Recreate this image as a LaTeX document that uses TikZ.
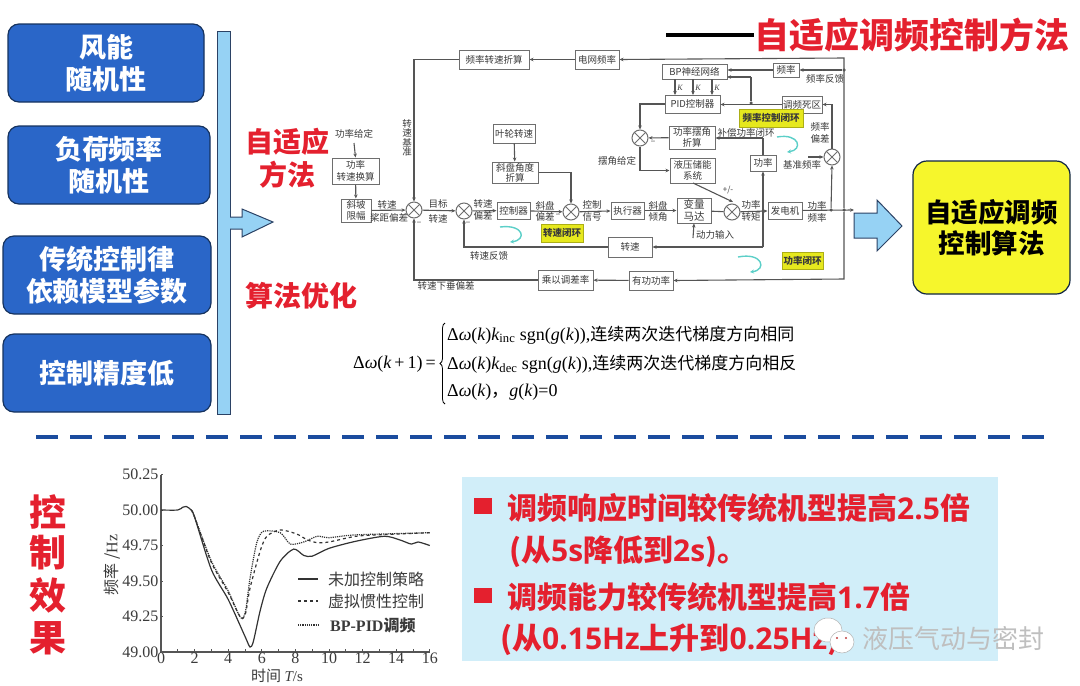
\documentclass[tikz,border=0pt]{standalone}
\usepackage{fontspec}
\setmainfont{Noto Sans CJK SC}
\newfontfamily\timesfont{Liberation Serif}
\newfontfamily\latinfont{Open Sans}
\usetikzlibrary{arrows.meta,decorations.pathreplacing}
\definecolor{boxline}{HTML}{6E6E6E}
\definecolor{wirecol}{HTML}{555555}
\definecolor{labeltext}{HTML}{3A3A3A}
\definecolor{deepblue}{HTML}{16335F}
\definecolor{dashblue}{HTML}{1B4C9E}
\definecolor{midblue}{HTML}{2A66C8}
\definecolor{lightblue}{HTML}{96D2F4}
\definecolor{panelblue}{HTML}{D1EEF9}
\definecolor{titlered}{HTML}{E4202E}
\definecolor{loopyellow}{HTML}{E6E81E}
\definecolor{resultyellow}{HTML}{F6F62C}
\definecolor{loopcyan}{HTML}{5CCFC8}
\newcommand{\fs}[1]{\fontsize{#1pt}{#1pt}\selectfont}
\newcommand{\fsl}[2]{\fontsize{#1pt}{#2pt}\selectfont}
\newcommand{\dwk}{Δ{\itshape ω}({\itshape k})}
\newcommand{\lt}[1]{{\latinfont #1}}
\tikzset{
  bluebox/.style={draw=deepblue,line width=1.2pt,rounded corners=11pt,fill=midblue,text=white,align=center,font=\fs{27}\bfseries},
  redtext/.style={text=titlered,align=center,font=\fs{28}\bfseries},
  boxnode/.style={draw=boxline,line width=1pt,fill=white,inner sep=0pt,align=center,text=labeltext,font=\fs{9.5}},
  loopnode/.style={draw=loopyellow!75!black,line width=.7pt,fill=loopyellow,inner sep=0pt,text=labeltext,font=\fs{9.5}\bfseries},
  lbl/.style={inner sep=0pt,text=labeltext,align=center,font=\fs{9.5}},
  sumnode/.style={circle,draw=boxline,line width=1pt,fill=white,minimum size=16pt,inner sep=0pt,
    path picture={\draw[boxline,line width=.8pt] (path picture bounding box.north west) -- (path picture bounding box.south east)
      (path picture bounding box.north east) -- (path picture bounding box.south west);}},
  wire/.style={draw=wirecol,line width=1.1pt},
  arrowed/.style={wire,-{Stealth[length=4pt,width=3.5pt]}},
  dot/.style={circle,fill=wirecol,inner sep=0pt,minimum size=3.5pt},
  loopcurve/.style={draw=loopcyan,line width=1.4pt,-{Stealth[length=4pt,width=4pt]}},
  blockarrow/.style={draw=deepblue!80!gray,line width=1pt,fill=lightblue},
  ticklabel/.style={inner sep=0pt,text=labeltext,font=\timesfont\fs{16}},
  legendtext/.style={anchor=west,inner sep=0pt,text=labeltext,font=\fs{16}},
  eqline/.style={anchor=west,inner sep=0pt,text=black,font=\timesfont\fs{18}},
  pointtext/.style={anchor=west,inner sep=0pt,text=titlered,font=\fs{30}\bfseries},
}
\begin{document}
\begin{tikzpicture}[x=1pt,y=-1pt]
  \useasboundingbox (0,0) rectangle (1080,686);

  % Left column of causes
  \node[bluebox,minimum width=196pt,minimum height=78pt] (wind) at (106,63) {风能\\[5pt]随机性};
  \node[bluebox,minimum width=202pt,minimum height=78pt] (load) at (109,165) {负荷频率\\[5pt]随机性};
  \node[bluebox,minimum width=208pt,minimum height=78pt] (model) at (107,275) {传统控制律\\[5pt]依赖模型参数};
  \node[bluebox,minimum width=208pt,minimum height=78pt] (acc) at (107,373) {控制精度低};

  % Bar and block arrows
  \draw[blockarrow] (217,31) rectangle (230,414);
  \draw[blockarrow] (230,217) -- (242,217) -- (242,209) -- (273,222) -- (242,237) -- (242,229) -- (230,229);
  \draw[blockarrow] (854,213) -- (877,213) -- (877,200) -- (902,226) -- (877,251) -- (877,238) -- (854,238) -- cycle;

  \node[redtext] (adapt) at (287,158) {自适应\\[5pt]方法};
  \node[redtext] (optim) at (301,296) {算法优化};

  % Title
  \node[redtext,font=\fs{35}\bfseries,anchor=west,inner sep=0pt] (title) at (754,35) {自适应调频控制方法};
  \coordinate (titlestart) at (666,35);
  \draw[line width=4pt] (titlestart) -- (title.west);

  % Result box
  \node[draw=deepblue!70!black,line width=1.2pt,fill=resultyellow,rounded corners=14pt,minimum width=157pt,minimum height=133pt,align=center,font=\fs{26.5}\bfseries] (algo) at (991.5,227.5) {自适应调频\\[5pt]控制算法};

  % Blocks of the control scheme
  \node[boxnode,minimum width=70pt,minimum height=19pt] (fdspeed) at (494,59.5) {频率转速折算};
  \node[boxnode,minimum width=44pt,minimum height=19pt] (gridf) at (597,59.5) {电网频率};
  \node[boxnode,minimum width=65pt,minimum height=15pt] (bpnet) at (694.5,71.5) {BP神经网络};
  \node[boxnode,minimum width=26pt,minimum height=14pt] (freqb) at (786,70) {频率};
  \node[boxnode,minimum width=55pt,minimum height=18pt] (pid) at (692.5,104) {PID控制器};
  \node[boxnode,minimum width=40pt,minimum height=17pt] (dead) at (802,104.5) {调频死区};
  \node[boxnode,minimum width=46pt,minimum height=23pt,font=\fsl{9.5}{10.5}] (powang) at (692,137.5) {功率摆角\\折算};
  \node[boxnode,minimum width=45pt,minimum height=25pt,font=\fsl{9.5}{11}] (hydro) at (692.5,170.5) {液压储能\\系统};
  \node[boxnode,minimum width=26pt,minimum height=16pt] (powb) at (763,163) {功率};
  \node[boxnode,minimum width=34pt,minimum height=17pt] (gen) at (785,210.5) {发电机};
  \node[boxnode,minimum width=34pt,minimum height=25pt,font=\fsl{10.5}{11.5}] (motor) at (694,210.5) {变量\\马达};
  \node[boxnode,minimum width=33pt,minimum height=17pt] (actu) at (627.5,210.5) {执行器};
  \node[boxnode,minimum width=44pt,minimum height=20pt] (speedb) at (630,247) {转速};
  \node[boxnode,minimum width=44pt,minimum height=19pt] (actp) at (651,280.5) {有功功率};
  \node[boxnode,minimum width=55pt,minimum height=20pt] (droop) at (565.5,280) {乘以调差率};
  \node[boxnode,minimum width=47pt,minimum height=26pt,font=\fsl{9.5}{11.5}] (powcalc) at (355.5,171) {功率\\转速换算};
  \node[boxnode,minimum width=30pt,minimum height=23pt,font=\fsl{9.5}{11}] (ramp) at (356,210.5) {斜坡\\限幅};
  \node[boxnode,minimum width=42pt,minimum height=19pt] (rotor) at (514,133.5) {叶轮转速};
  \node[boxnode,minimum width=46pt,minimum height=21pt,font=\fsl{9.5}{10}] (swash) at (515,172.5) {斜盘角度\\折算};
  \node[boxnode,minimum width=33pt,minimum height=17pt] (ctrl) at (513.5,210.5) {控制器};

  % Summing points
  \node[sumnode] (sumA) at (414,210) {};
  \node[sumnode] (sumB) at (464,211) {};
  \node[sumnode] (sumC) at (571,212) {};
  \node[sumnode] (sumD) at (640,138) {};
  \node[sumnode] (sumE) at (732,212) {};
  \node[sumnode] (sumF) at (832,157) {};

  % Junctions and free ends
  \coordinate (powset) at (354,143);
  \coordinate (topright) at (844,58);
  \coordinate (botright) at (844,279);
  \node[dot] (jfreq) at (844,70) {};
  \node[dot] (jmain) at (844,210) {};
  \node[dot] (jerr) at (831,210) {};
  \node[dot] (jpow) at (763,211) {};
  \node[dot] (jpid) at (751,103) {};
  \coordinate (bpin) at (751,77);
  \coordinate (bpend) at (727,77);
  \coordinate (bigin) at (854,210);
  \coordinate (powup) at (763,138);
  \coordinate (powbot) at (763,247);
  \coordinate (hydroout) at (693,183);
  \coordinate (sumEin) at (733,202);
  \coordinate (driveout) at (693,238);
  \coordinate (refout) at (808,157);

  % Main connections
  \draw[arrowed] (jmain) -- (topright) -- (gridf.east);
  \draw[arrowed] (gridf) -- (fdspeed);
  \draw[arrowed] (fdspeed.west) -| (sumA.north);
  \draw[arrowed] (powset) -- (powcalc.north);
  \draw[arrowed] (powcalc) -- (ramp);
  \draw[arrowed] (ramp) -- (sumA);
  \draw[arrowed] (sumA) -- (sumB);
  \draw[arrowed] (sumB) -- (ctrl);
  \draw[arrowed] (ctrl) -- (sumC);
  \draw[arrowed] (sumC) -- (actu);
  \draw[arrowed] (actu) -- (motor);
  \draw[wire] (motor) -- (sumE);
  \draw[arrowed] (sumE) -- (gen);
  \draw[arrowed] (gen) -- (bigin);
  \draw[arrowed] (rotor) -- (swash);
  \draw[arrowed] (swash.east) -| (sumC.north);

  % Feedback paths
  \draw[arrowed] (jfreq) -- (freqb);
  \draw[arrowed] (freqb.west) -- (freqb.west -| bpnet.east);
  \draw[arrowed] (dead.west) -- (pid.east |- dead.west);
  \draw[wire] (jpid) -- (bpin);
  \draw[arrowed] (bpin) -- (bpend);
  \foreach \xk in {675,693,712}
    \draw[arrowed] (\xk,79) -- (\xk,95);
  \draw[arrowed] (pid.west) -| (sumD.north);
  \draw[arrowed] (powang) -- (sumD);
  \draw[arrowed] (sumD.south) |- (hydro.west);
  \draw[arrowed] (hydroout) -- (sumEin);
  \draw[arrowed] (driveout) -- (motor.south);
  \draw[arrowed] (powbot) -- (powb.south);
  \draw[wire] (powb.north) -- (powup);
  \draw[arrowed] (powup) -- (powang.east |- powup);
  \draw[arrowed] (powbot) -- (speedb.east);
  \draw[arrowed] (speedb.west) -| (sumB.south);
  \draw[arrowed] (jerr) -- (sumF.south);
  \draw[arrowed] (sumF.north) |- (dead.east);
  \draw[arrowed] (refout) -- (sumF.west);
  \draw[arrowed] (jmain) -- (botright) -- (actp.east);
  \draw[arrowed] (actp) -- (droop);
  \draw[arrowed] (droop.west) -| (sumA.south);

  % Yellow loop names
  \node[loopnode,minimum width=64pt,minimum height=18pt] (freqloop) at (771,118) {频率控制闭环};
  \node[loopnode,minimum width=42pt,minimum height=18pt] (speedloop) at (562,233) {转速闭环};
  \node[loopnode,minimum width=41pt,minimum height=17pt] (powerloop) at (802.5,260.5) {功率闭环};

  % Turning arrows
  \draw[loopcurve] (500,227) .. controls (524,224) and (527,240) .. (510,242);
  \draw[loopcurve] (777,137) .. controls (800,133) and (803,150) .. (787,152);
  \draw[loopcurve] (738,257) .. controls (763,252) and (767,270) .. (750,272);

  % Signal labels
  \node[lbl] (lpowset) at (354,134) {功率给定};
  \node[lbl,text width=10pt] (lbase) at (407,138) {转\\速\\基\\准};
  \node[lbl] (lrampA) at (387,205) {转速};
  \node[lbl] (lrampB) at (389,218) {桨距偏差};
  \node[lbl] (ltargA) at (438,204) {目标};
  \node[lbl] (ltargB) at (438,219) {转速};
  \node[lbl] (lerrA) at (483,204) {转速};
  \node[lbl] (lerrB) at (483,216) {偏差};
  \node[lbl] (lswA) at (545,206) {斜盘};
  \node[lbl] (lswB) at (545,217) {偏差};
  \node[lbl] (lcsA) at (592,205) {控制};
  \node[lbl] (lcsB) at (592,217) {信号};
  \node[lbl] (ltiltA) at (658,206) {斜盘};
  \node[lbl] (ltiltB) at (658,217) {倾角};
  \node[lbl] (ltorqA) at (751,205) {功率};
  \node[lbl] (ltorqB) at (751,217) {转矩};
  \node[lbl] (lpfA) at (817,206) {功率};
  \node[lbl] (lpfB) at (817,218) {频率};
  \node[lbl] (lback) at (489,256) {转速反馈};
  \node[lbl] (ldroop) at (446,286) {转速下垂偏差};
  \node[lbl] (ldrive) at (715,235) {动力输入};
  \node[lbl] (lswing) at (617,161) {摆角给定};
  \node[lbl] (lcomp) at (746,133) {补偿功率闭环};
  \node[lbl] (lfeed) at (825,79) {频率反馈};
  \node[lbl] (lbasef) at (802,165) {基准频率};
  \node[lbl] (lfdevA) at (820,127) {频率};
  \node[lbl] (lfdevB) at (820,139) {偏差};
  \node[lbl,font=\fs{8}] (lpm) at (728,190) {+/-};
  \node[lbl,font=\fs{8}] (mnsA) at (419,224) {−};
  \node[lbl,font=\fs{8}] (mnsB) at (468,224) {−};
  \node[lbl,font=\fs{8}] (mnsC) at (558,216) {−};
  \node[lbl,font=\fs{8}] (mnsD) at (653,143) {−};
  \node[lbl,font=\timesfont\itshape\fs{8}] (gainP) at (680,88) {K};
  \node[lbl,font=\timesfont\itshape\fs{8}] (gainI) at (698,88) {K};
  \node[lbl,font=\timesfont\itshape\fs{8}] (gainD) at (717,88) {K};

  % Update rule
  \coordinate (bracelow) at (445,404);
  \coordinate (bracehigh) at (445,323);
  \node[eqline] (eqlhs) at (353,364) {Δ{\itshape ω}({\itshape k}\,+\,1)\,=};
  \draw[black,line width=.8pt,decorate,decoration={brace,amplitude=5pt}] (bracelow) -- (bracehigh);
  \node[eqline] (eqA) at (447,335) {\dwk{\itshape k}\textsubscript{inc} sgn({\itshape g}({\itshape k})),{\rmfamily\fs{17}连续两次迭代梯度方向相同}};
  \node[eqline] (eqB) at (447,364) {\dwk{\itshape k}\textsubscript{dec} sgn({\itshape g}({\itshape k})),{\rmfamily\fs{17}连续两次迭代梯度方向相反}};
  \node[eqline] (eqC) at (447,392) {\dwk{\rmfamily ，}{\itshape g}({\itshape k})=0};

  % Separator
  \coordinate (sepA) at (36,437);
  \coordinate (sepB) at (1045,437);
  \draw[dashblue,line width=4pt,dash pattern=on 22pt off 12pt] (sepA) -- (sepB);

  % Effect heading
  \node[redtext,font=\fs{37}\bfseries] (effA) at (48,512) {控};
  \node[redtext,font=\fs{37}\bfseries] (effB) at (48,553) {制};
  \node[redtext,font=\fs{37}\bfseries] (effC) at (48,595) {效};
  \node[redtext,font=\fs{37}\bfseries] (effD) at (48,638) {果};

  % Frequency response chart
  \begin{scope}[shift={(161,652)},x=16.8pt,y=142pt]
    \draw[wirecol,line width=1.1pt] (0,1.25) -- (0,0) -- (16,0);
    \foreach \tk in {0,1,...,16}
      \draw[wirecol,line width=.7pt] (\tk,0) -- (\tk,0.02);
    \foreach \tk in {0,2,...,16}
      \node[ticklabel] (xt\tk) at (\tk,-0.045) {\tk};
    \foreach \fk/\ft in {0/49.00,0.25/49.25,0.5/49.50,0.75/49.75,1/50.00,1.25/50.25} {
      \draw[wirecol,line width=.7pt] (0,\fk) -- (0.12,\fk);
      \node[ticklabel,anchor=east] at (-0.15,\fk) {\ft};
    }
    % Three responses
    \draw[black!80,line width=1.2pt,smooth,tension=.45] plot coordinates {(0,1) (1,1) (1.3,1.02) (1.5,1.025) (1.8,1) (2,.95) (3,.58) (4,.37) (5,.11) (5.3,.035) (5.5,.075) (5.9,.29) (6.3,.45) (7.1,.64) (7.9,.725) (8.5,.68) (9,.675) (10,.73) (11.6,.78) (13.3,.815) (14.2,.79) (14.9,.76) (15.3,.775) (16,.75)};
    \draw[black!80,line width=1.2pt,dashed,smooth,tension=.45] plot coordinates {(1.8,1) (2,.95) (3,.63) (4,.42) (4.6,.27) (4.85,.235) (5.05,.28) (5.3,.45) (5.9,.71) (6.3,.815) (7.1,.86) (8.1,.83) (8.7,.79) (9.3,.77) (10,.775) (11.6,.815) (13,.825) (16,.84)};
    \draw[black!80,line width=1.2pt,densely dotted,smooth,tension=.45] plot coordinates {(1.8,1) (2,.95) (3,.64) (4,.43) (4.6,.27) (4.85,.235) (5.05,.3) (5.3,.52) (5.7,.77) (6.1,.85) (7.1,.84) (7.7,.76) (8.5,.775) (9.3,.815) (10,.805) (11.6,.825) (16,.84)};
  \end{scope}
  \node[ticklabel,rotate=90,font=\fs{16}] (ftitle) at (112,565) {频率 /{\timesfont Hz}};
  \node[ticklabel,font=\fs{15}] (ttitle) at (277,676) {时间 {\timesfont\itshape T}{\timesfont /s}};
  \draw[black!80,line width=1.2pt] (298,579) -- (318,579);
  \draw[black!80,line width=1.2pt,dashed] (298,601) -- (318,601);
  \draw[black!80,line width=1.2pt,densely dotted] (298,625) -- (318,625);
  \node[legendtext] (legA) at (328,579) {未加控制策略};
  \node[legendtext] (legB) at (328,601) {虚拟惯性控制};
  \node[legendtext,font=\fs{16}\bfseries] (legC) at (330,625) {{\timesfont BP-PID}调频};

  % Findings panel
  \fill[panelblue] (462,477) rectangle (998,661);
  \fill[titlered] (474,498) rectangle (492,514);
  \fill[titlered] (474,588) rectangle (492,603);
  \node[pointtext] (ptA) at (507,508) {调频响应时间较传统机型提高\lt{2.5}倍};
  \node[pointtext] (ptB) at (509,552) {(从\lt{5s}降低到\lt{2s})。};
  \node[pointtext] (ptC) at (507,597) {调频能力较传统机型提高\lt{1.7}倍};
  \node[pointtext] (ptD) at (500,640) {(从\lt{0.15Hz}上升到\lt{0.25Hz})。};

  % Mark
  \draw[gray!60,fill=white,line width=.5pt] (828,630) ellipse (14 and 12);
  \draw[gray!60,fill=white,line width=.5pt] (842,642) ellipse (12 and 11);
  \fill[red!50!gray] (837,638) circle (1.2) (846,638) circle (1.2);
  \node[inner sep=0pt,anchor=west,text=gray!50,font=\fs{26}] (markname) at (862,638) {液压气动与密封};
\end{tikzpicture}
\end{document}
